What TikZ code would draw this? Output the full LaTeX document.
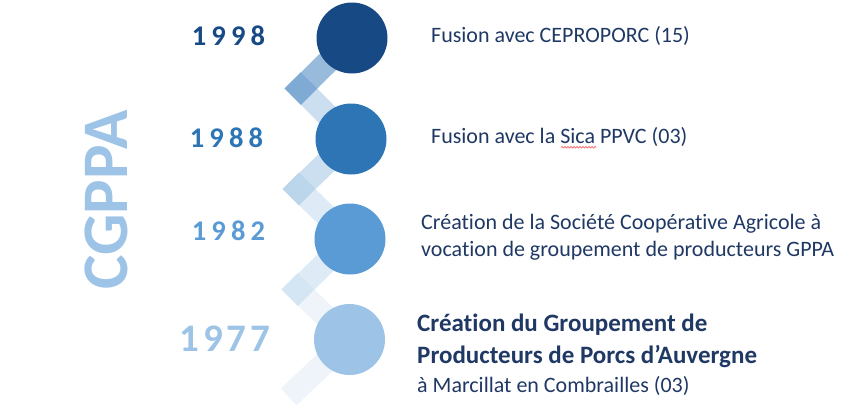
\documentclass[tikz,border=0pt]{standalone}
\usepackage{fontspec}
\setmainfont{Carlito}[Ligatures=NoCommon]
\newfontfamily\yearfont[LetterSpace=18]{Carlito}
\newfontfamily\bigyearfont[LetterSpace=10]{Carlito}
\usepackage{xcolor}
\usepackage{tikz}
\usetikzlibrary{positioning,decorations.pathmorphing}
\definecolor{navy}{HTML}{1F3864}
\definecolor{blueA}{HTML}{174A84}
\definecolor{blueB}{HTML}{2E75B6}
\definecolor{blueC}{HTML}{5B9BD5}
\definecolor{blueD}{HTML}{9DC3E6}
\definecolor{armA}{HTML}{98BBDC}
\definecolor{armB}{HTML}{CCDFF0}
\definecolor{armC}{HTML}{DEEBF7}
\definecolor{armD}{HTML}{EEF4FA}
\definecolor{kneeA}{HTML}{7EAAD4}
\definecolor{kneeB}{HTML}{BBD5EB}
\definecolor{kneeC}{HTML}{D4E5F3}
\tikzset{
  dot/.style={circle,minimum size=71pt,inner sep=0pt},
  arm/.style={line width=23pt,line cap=rect},
  year/.style={font=\yearfont\bfseries\fontsize{28.5}{28.5}\selectfont},
  event/.style={anchor=base west,align=left,inner sep=0pt,text=navy,font=\fontsize{22}{27.5}\selectfont},
  squiggle/.style={red!80,line width=0.5pt,decorate,decoration={snake,amplitude=0.8pt,segment length=3pt}}
}
\newcommand{\knee}[2]{\fill[#1] (#2) +(-16.3,0) -- +(0,-16.3) -- +(16.3,0) -- +(0,16.3) -- cycle;}

\begin{document}
\begin{tikzpicture}[x=1pt,y=-1pt]
\useasboundingbox (0,0) rectangle (861,416);
\coordinate (k1) at (301,88.5);
\coordinate (k2) at (299,189);
\coordinate (k3) at (298,289.5);
\coordinate (kend) at (297,389);
\coordinate (c1998) at (352,38);
\coordinate (c1988) at (351,139);
\coordinate (c1982) at (350,239);
\coordinate (c1977) at (349.5,339.5);
\draw[arm,armA] (c1998) -- (k1);
\draw[arm,armB] (k1) -- (c1988);
\draw[arm,armB] (c1988) -- (k2);
\draw[arm,armC] (k2) -- (c1982);
\draw[arm,armC] (c1982) -- (k3);
\draw[arm,armD] (k3) -- (c1977);
\draw[arm,armD] (c1977) -- (kend);
\knee{kneeA}{k1}
\knee{kneeB}{k2}
\knee{kneeC}{k3}
\node[dot,fill=blueA] (d1998) at (c1998) {};
\node[dot,fill=blueB] (d1988) at (c1988) {};
\node[dot,fill=blueC] (d1982) at (c1982) {};
\node[dot,fill=blueD] (d1977) at (c1977) {};
\node[year,text=blueA] (y1998) at (228.5,36) {1998};
\node[year,text=blueB] (y1988) at (226.5,137.5) {1988};
\node[year,text=blueC] (y1982) at (228.5,230.5) {1982};
\node[font=\bigyearfont\bfseries\fontsize{39}{39}\selectfont,text=blueD] (y1977) at (225,338.5) {1977};
\node[rotate=90,text=blueD,font=\bfseries\fontsize{65}{65}\selectfont] (cgppa) at (106,200) {CGPPA};
\node[event] (ev1998) at (431,42.3) {Fusion avec CEPROPORC (15)};
\node[event] (ev1988) at (431,143.3) {Fusion avec la Sica PPVC (03)};
\draw[squiggle] ([xshift=130pt,yshift=-4pt]ev1988.base west) -- ++(35,0);
\node[event] (ev1982) at (421,256.8) {Création de la Société Coopérative Agricole à\\vocation de groupement de producteurs GPPA};
\node[event,font=\bfseries\fontsize{25}{32}\selectfont] (ev1977) at (417,392) {Création du Groupement de\\Producteurs de Porcs d’Auvergne\\[-3pt]{\mdseries\fontsize{22}{29}\selectfont à Marcillat en Combrailles (03)}};
\end{tikzpicture}
\end{document}
